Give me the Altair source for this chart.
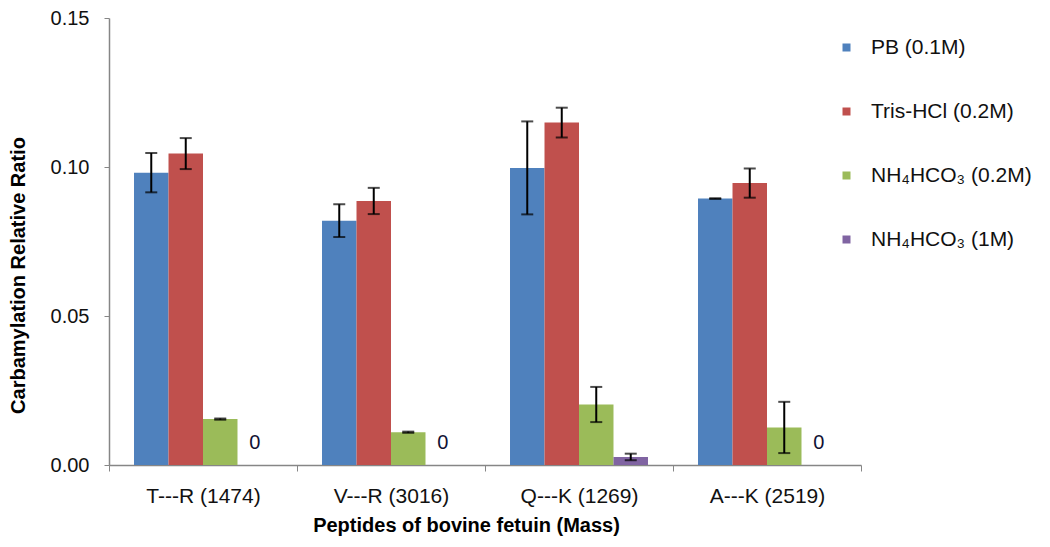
import altair as alt
import pandas as pd

peptides = ["T---R (1474)", "V---R (3016)", "Q---K (1269)", "A---K (2519)"]
buffers = ["PB (0.1M)", "Tris-HCl (0.2M)", "NH₄HCO₃ (0.2M)", "NH₄HCO₃ (1M)"]
colors = ["#4F81BD", "#C0504D", "#9BBB59", "#8064A2"]

pb = [0.0981, 0.0820, 0.0997, 0.0894]
pb_err = [0.0066, 0.0055, 0.0156, 0.0001]
tris = [0.1045, 0.0886, 0.1149, 0.0946]
tris_err = [0.0052, 0.0044, 0.0050, 0.0049]
nh4_02 = [0.0154, 0.0110, 0.0203, 0.0126]
nh4_02_err = [0.0002, 0.0002, 0.0059, 0.0086]
nh4_1 = [0.0, 0.0, 0.0027, 0.0]
nh4_1_err = [0.0, 0.0, 0.0011, 0.0]

series = [(pb, pb_err), (tris, tris_err), (nh4_02, nh4_02_err), (nh4_1, nh4_1_err)]
rows = []
for b, (vals, errs) in zip(buffers, series):
    for p, v, e in zip(peptides, vals, errs):
        rows.append({"peptide": p, "buffer": b, "value": v, "err": e,
                     "lo": v - e, "hi": v + e, "label": "0" if v == 0 else ""})
df = pd.DataFrame(rows)
err_df = df[df["value"] > 0]
zero_df = df[df["value"] == 0]

FONT = "Liberation Sans"

x = alt.X("peptide:N", sort=peptides,
          scale=alt.Scale(paddingInner=0, paddingOuter=0),
          axis=alt.Axis(title="Peptides of bovine fetuin (Mass)", labelAngle=0,
                        tickBand="extent", tickSize=6, labelPadding=14,
                        titleX=357, titleY=60, titleBaseline="middle",
                        titleFontSize=20, titleFontWeight="bold",
                        labelFontSize=21))
xo = alt.XOffset("buffer:N", sort=buffers,
                 scale=alt.Scale(paddingInner=0, paddingOuter=0.725))
yscale = alt.Scale(domain=[0, 0.15], nice=False)

bars = alt.Chart(df).mark_bar().encode(
    x=x,
    xOffset=xo,
    y=alt.Y("value:Q", scale=yscale,
            axis=alt.Axis(title="Carbamylation Relative Ratio", values=[0, 0.05, 0.10, 0.15],
                          format=".2f", grid=False, tickSize=5, labelPadding=15,
                          labelFontSize=20, titleFontSize=20, titleFontWeight="bold",
                          titleX=-91, titleY=257, titleBaseline="middle")),
    color=alt.Color("buffer:N", sort=buffers,
                    scale=alt.Scale(domain=buffers, range=colors),
                    legend=alt.Legend(title=None, orient="none", legendX=727, legendY=19,
                                      symbolType="square", symbolSize=64,
                                      symbolStrokeWidth=0, labelFontSize=21,
                                      labelOffset=14, rowPadding=42, padding=0,
                                      labelLimit=300, labelColor="#111111")),
)

rules = alt.Chart(err_df).mark_rule(color="black", strokeWidth=2).encode(
    x=alt.X("peptide:N", sort=peptides),
    xOffset=xo,
    y=alt.Y("lo:Q", scale=yscale),
    y2="hi:Q",
)
caps_hi = alt.Chart(err_df).mark_tick(color="black", thickness=2, size=12,
                                      orient="horizontal").encode(
    x=alt.X("peptide:N", sort=peptides),
    xOffset=xo,
    y=alt.Y("hi:Q", scale=yscale),
)
caps_lo = alt.Chart(err_df).mark_tick(color="black", thickness=2, size=12,
                                      orient="horizontal").encode(
    x=alt.X("peptide:N", sort=peptides),
    xOffset=xo,
    y=alt.Y("lo:Q", scale=yscale),
)
zeros = alt.Chart(zero_df).mark_text(fontSize=20, dy=-22, color="#111133",
                                     font=FONT).encode(
    x=alt.X("peptide:N", sort=peptides),
    xOffset=xo,
    y=alt.Y("value:Q", scale=yscale),
    text="label:N",
)

chart = alt.layer(bars, rules, caps_hi, caps_lo, zeros).properties(
    width=752, height=447,
    autosize=alt.AutoSizeParams(type="none"),
    padding={"left": 101, "top": 10, "right": 181, "bottom": 74},
).configure_view(stroke=None).configure_axis(
    domainColor="#868686", tickColor="#868686", labelColor="#111111",
    titleColor="#000000", labelFont=FONT, titleFont=FONT, domainWidth=1.5,
).configure_legend(labelFont=FONT).configure_text(font=FONT)

chart.save("out.html", embed_options={"renderer": "svg", "actions": False})
